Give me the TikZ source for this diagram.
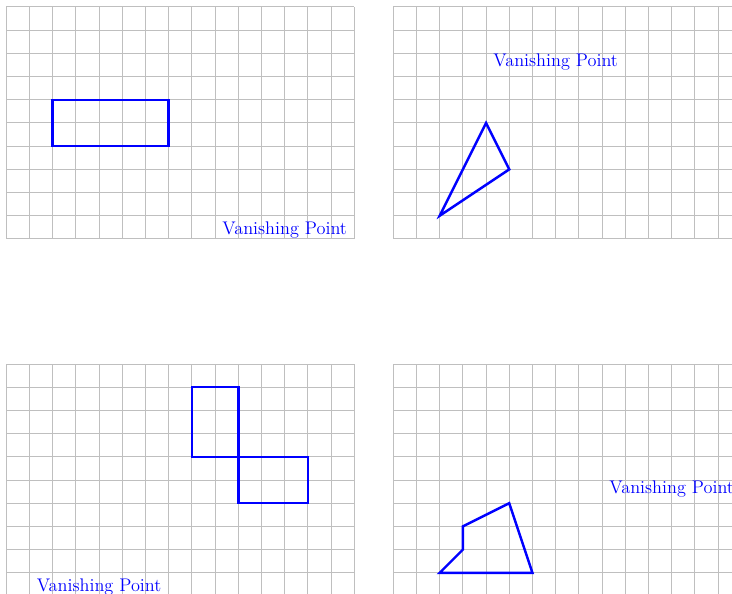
\documentclass[tikz,border=0pt]{standalone}
\usetikzlibrary{positioning}
\tikzset{grid line/.style={draw=black!25,line width=0.6pt},
	figure line/.style={draw=blue,line width=1.5pt,line join=miter},
	vp label/.style={text=blue,inner sep=0pt,font=\fontsize{11.2}{13}\selectfont},
}

\begin{document}
\begin{tikzpicture}[scale=0.5]
				\clip (-0.27,0.09) rectangle (31.28,25.69);
				
				% top left
				\begin{scope}[shift={(0,15.39)}]
				\draw[grid line] (0,0) grid (15,10);
				\draw[figure line] (2,4) rectangle (7,6);
				\coordinate (vp1) at (12,0);
				\node[vp label] (VP1) [above=0pt of vp1] {Vanishing Point};
				\end{scope}
				
				% top right
				\begin{scope}[shift={(16.68,15.39)}]
				\draw[grid line] (0,0) grid (15,10);
				\draw[figure line] (4,5) -- (5,3) -- (2,1) -- cycle;
				\coordinate (vp2) at (7,8);
				\node[vp label] (VP2) [below=0pt of vp2] {Vanishing Point};
				\end{scope}
				
				% bottom left
				\begin{scope}[shift={(0,0)}]
				\draw[grid line] (0,0) grid (15,10);
				\draw[figure line] (8,6) rectangle (10,9);
				\draw[figure line] (10,4) rectangle (13,6);
				\coordinate (vp3) at (4,0);
				\node[vp label] (VP3) [above=0pt of vp3] {Vanishing Point};
				\end{scope}
				
				% bottom right
				\begin{scope}[shift={(16.68,0)}]
				\draw[grid line] (0,0) grid (15,10);
				\draw[figure line] (2,1) -- (3,2) -- (3,3) -- (5,4) -- (6,1) -- cycle;
				\coordinate (vp4) at (12,5);
				\node[vp label] (VP4) [below=0pt of vp4] {Vanishing Point};
				\end{scope}
				
			\end{tikzpicture}
\end{document}
